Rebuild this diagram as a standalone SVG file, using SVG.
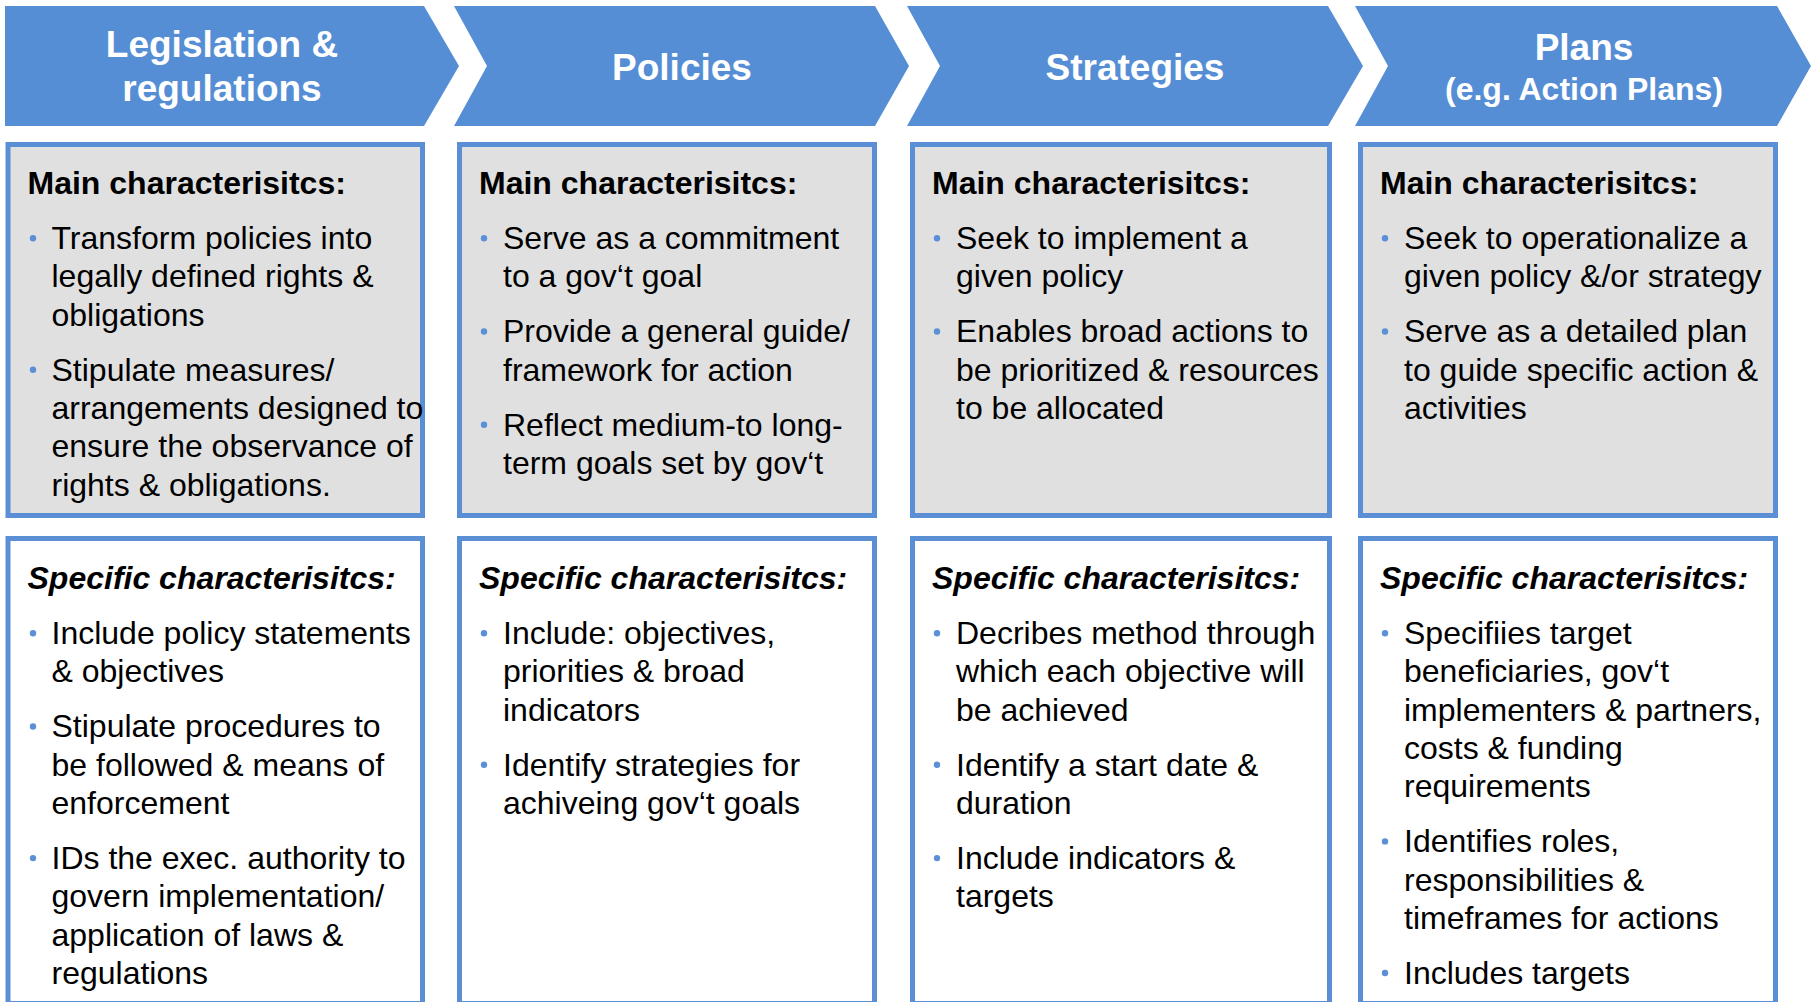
<svg xmlns="http://www.w3.org/2000/svg" width="1812" height="1002" viewBox="0 0 1812 1002">
<style>
.arrow{fill:#558ED5}
.hd{font-family:"Liberation Sans",Arial,sans-serif;font-weight:bold;fill:#FFFFFF;text-anchor:middle;font-size:37px}
.hds{font-size:32px}
.main{fill:#E0E0E0;stroke:#5A8FD6;stroke-width:5}
.spec{fill:#FFFFFF;stroke:#5A8FD6;stroke-width:5}
.t{font-family:"Liberation Sans",Arial,sans-serif;font-size:32px;fill:#000000}
.h{font-weight:bold}
.hi{font-weight:bold;font-style:italic}
.dot{fill:#5B8FD6}
</style>
<rect width="1812" height="1002" fill="#FFFFFF"/>
<g id="arrow-legislation">
<polygon class="arrow" points="5,6 424,6 459,66 424,126 5,126"/>
<text class="hd" x="222" y="57">Legislation &amp;</text>
<text class="hd" x="222" y="101">regulations</text>
</g>
<g id="arrow-policies">
<polygon class="arrow" points="454,6 875,6 909,66 875,126 454,126 487,66"/>
<text class="hd" x="682" y="80">Policies</text>
</g>
<g id="arrow-strategies">
<polygon class="arrow" points="907,6 1328,6 1363,66 1328,126 907,126 940,66"/>
<text class="hd" x="1135" y="80">Strategies</text>
</g>
<g id="arrow-plans">
<polygon class="arrow" points="1355,6 1777,6 1811,66 1777,126 1355,126 1388,66"/>
<text class="hd" x="1584" y="60">Plans</text>
<text class="hd hds" x="1584" y="100">(e.g. Action Plans)</text>
</g>

<g transform="translate(0,1.2)">
<g id="main-legislation">
<rect class="main" x="8" y="143.3" width="414.5" height="371"/>
<text class="t h" x="27.5" y="193">Main characterisitcs:</text>
<circle class="dot" cx="33" cy="237" r="3.2"/>
<text class="t" x="51.5" y="248">Transform policies into</text>
<text class="t" x="51.5" y="286.3">legally defined rights &amp;</text>
<text class="t" x="51.5" y="324.6">obligations</text>
<circle class="dot" cx="33" cy="368.6" r="3.2"/>
<text class="t" x="51.5" y="379.6">Stipulate measures/</text>
<text class="t" x="51.5" y="417.9">arrangements designed to</text>
<text class="t" x="51.5" y="456.2">ensure the observance of</text>
<text class="t" x="51.5" y="494.5">rights &amp; obligations.</text>
</g>
<g id="main-policies">
<rect class="main" x="459.5" y="143.3" width="415" height="371"/>
<text class="t h" x="479" y="193">Main characterisitcs:</text>
<circle class="dot" cx="484" cy="237" r="3.2"/>
<text class="t" x="503" y="248">Serve as a commitment</text>
<text class="t" x="503" y="286.3">to a gov‘t goal</text>
<circle class="dot" cx="484" cy="330.3" r="3.2"/>
<text class="t" x="503" y="341.3">Provide a general guide/</text>
<text class="t" x="503" y="379.6">framework for action</text>
<circle class="dot" cx="484" cy="423.6" r="3.2"/>
<text class="t" x="503" y="434.6">Reflect medium-to long-</text>
<text class="t" x="503" y="472.9">term goals set by gov‘t</text>
</g>
<g id="main-strategies">
<rect class="main" x="912.5" y="143.3" width="417" height="371"/>
<text class="t h" x="932" y="193">Main characterisitcs:</text>
<circle class="dot" cx="937" cy="237" r="3.2"/>
<text class="t" x="956" y="248">Seek to implement a</text>
<text class="t" x="956" y="286.3">given policy</text>
<circle class="dot" cx="937" cy="330.3" r="3.2"/>
<text class="t" x="956" y="341.3">Enables broad actions to</text>
<text class="t" x="956" y="379.6">be prioritized &amp; resources</text>
<text class="t" x="956" y="417.9">to be allocated</text>
</g>
<g id="main-plans">
<rect class="main" x="1360.5" y="143.3" width="415" height="371"/>
<text class="t h" x="1380" y="193">Main characterisitcs:</text>
<circle class="dot" cx="1385" cy="237" r="3.2"/>
<text class="t" x="1404" y="248">Seek to operationalize a</text>
<text class="t" x="1404" y="286.3">given policy &amp;/or strategy</text>
<circle class="dot" cx="1385" cy="330.3" r="3.2"/>
<text class="t" x="1404" y="341.3">Serve as a detailed plan</text>
<text class="t" x="1404" y="379.6">to guide specific action &amp;</text>
<text class="t" x="1404" y="417.9">activities</text>
</g>

<g id="spec-legislation">
<rect class="spec" x="8" y="537.3" width="414.5" height="465"/>
<text class="t hi" x="27.5" y="588">Specific characterisitcs:</text>
<circle class="dot" cx="33" cy="632" r="3.2"/>
<text class="t" x="51.5" y="643">Include policy statements</text>
<text class="t" x="51.5" y="681.3">&amp; objectives</text>
<circle class="dot" cx="33" cy="725.3" r="3.2"/>
<text class="t" x="51.5" y="736.3">Stipulate procedures to</text>
<text class="t" x="51.5" y="774.6">be followed &amp; means of</text>
<text class="t" x="51.5" y="812.9">enforcement</text>
<circle class="dot" cx="33" cy="856.9" r="3.2"/>
<text class="t" x="51.5" y="867.9">IDs the exec. authority to</text>
<text class="t" x="51.5" y="906.2">govern implementation/</text>
<text class="t" x="51.5" y="944.5">application of laws &amp;</text>
<text class="t" x="51.5" y="982.8">regulations</text>
</g>
<g id="spec-policies">
<rect class="spec" x="459.5" y="537.3" width="415" height="465"/>
<text class="t hi" x="479" y="588">Specific characterisitcs:</text>
<circle class="dot" cx="484" cy="632" r="3.2"/>
<text class="t" x="503" y="643">Include: objectives,</text>
<text class="t" x="503" y="681.3">priorities &amp; broad</text>
<text class="t" x="503" y="719.6">indicators</text>
<circle class="dot" cx="484" cy="763.6" r="3.2"/>
<text class="t" x="503" y="774.6">Identify strategies for</text>
<text class="t" x="503" y="812.9">achiveing gov‘t goals</text>
</g>
<g id="spec-strategies">
<rect class="spec" x="912.5" y="537.3" width="417" height="465"/>
<text class="t hi" x="932" y="588">Specific characterisitcs:</text>
<circle class="dot" cx="937" cy="632" r="3.2"/>
<text class="t" x="956" y="643">Decribes method through</text>
<text class="t" x="956" y="681.3">which each objective will</text>
<text class="t" x="956" y="719.6">be achieved</text>
<circle class="dot" cx="937" cy="763.6" r="3.2"/>
<text class="t" x="956" y="774.6">Identify a start date &amp;</text>
<text class="t" x="956" y="812.9">duration</text>
<circle class="dot" cx="937" cy="856.9" r="3.2"/>
<text class="t" x="956" y="867.9">Include indicators &amp;</text>
<text class="t" x="956" y="906.2">targets</text>
</g>
<g id="spec-plans">
<rect class="spec" x="1360.5" y="537.3" width="415" height="465"/>
<text class="t hi" x="1380" y="588">Specific characterisitcs:</text>
<circle class="dot" cx="1385" cy="632" r="3.2"/>
<text class="t" x="1404" y="643">Specifiies target</text>
<text class="t" x="1404" y="681.3">beneficiaries, gov‘t</text>
<text class="t" x="1404" y="719.6">implementers &amp; partners,</text>
<text class="t" x="1404" y="757.9">costs &amp; funding</text>
<text class="t" x="1404" y="796.2">requirements</text>
<circle class="dot" cx="1385" cy="840.2" r="3.2"/>
<text class="t" x="1404" y="851.2">Identifies roles,</text>
<text class="t" x="1404" y="889.5">responsibilities &amp;</text>
<text class="t" x="1404" y="927.8">timeframes for actions</text>
<circle class="dot" cx="1385" cy="971.8" r="3.2"/>
<text class="t" x="1404" y="982.8">Includes targets</text>
</g>
</g>
<g id="connectors"/>
</svg>
